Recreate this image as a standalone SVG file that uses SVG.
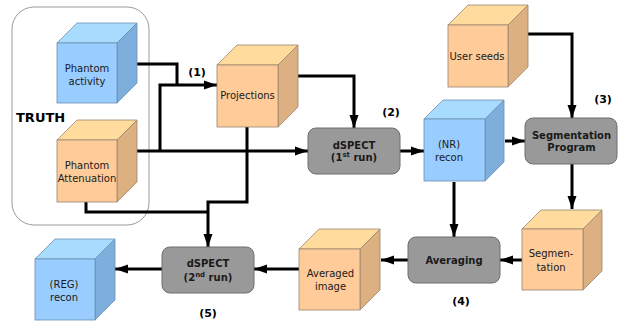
<svg xmlns="http://www.w3.org/2000/svg" width="623" height="324" viewBox="0 0 623 324">
<defs>
<style>
.bf{fill:#99ccff;stroke:#6d8fb0;stroke-width:0.8}
.bt{fill:#a8dcff;stroke:#6d8fb0;stroke-width:0.8}
.bs{fill:#7eaedc;stroke:#6d8fb0;stroke-width:0.8}
.of{fill:#ffcc99;stroke:#9a8670;stroke-width:0.8}
.ot{fill:#ffdc9e;stroke:#9a8670;stroke-width:0.8}
.os{fill:#dcb081;stroke:#9a8670;stroke-width:0.8}
.proc{fill:#999999;stroke:#6e6e6e;stroke-width:1}
.t{font-family:"DejaVu Sans",Verdana,sans-serif;font-size:10px;fill:#1a1a1a;text-anchor:middle}
.tb{font-family:"DejaVu Sans",Verdana,sans-serif;font-size:10px;font-weight:bold;fill:#1a1a1a;text-anchor:middle}
.lab{font-family:"DejaVu Sans",Verdana,sans-serif;font-size:11px;font-weight:bold;fill:#000;text-anchor:middle}
.c{fill:none;stroke:#000;stroke-width:3}
.a{marker-end:url(#ah)}
</style>
<marker id="ah" markerUnits="userSpaceOnUse" markerWidth="14" markerHeight="10" refX="13" refY="5" orient="auto">
<path d="M0,0.5 L13,5 L0,9.5 z" fill="#000"/>
</marker>
</defs>
<rect width="623" height="324" fill="#ffffff"/>

<g id="truth">
<rect x="12" y="7" width="137" height="218" rx="22" fill="none" stroke="#9a9a9a" stroke-width="1"/>
<text x="16" y="122" font-family="DejaVu Sans,sans-serif" font-size="13" font-weight="bold" fill="#000">TRUTH</text>
</g>

<g id="connectors">
<path class="c" d="M137,64 H177 V85"/>
<path class="c a" d="M160,151 V85 H217"/>
<path class="c a" d="M137,151 H308"/>
<path class="c a" d="M298,76 H354 V128"/>
<path class="c a" d="M247,127 V202 H208 V247"/>
<path class="c" d="M86,202 V212 H208"/>
<path class="c a" d="M400,151 H424"/>
<path class="c a" d="M505,141 H525"/>
<path class="c a" d="M528,34 H572 V118"/>
<path class="c a" d="M572,164 V209"/>
<path class="c a" d="M454,182 V237"/>
<path class="c a" d="M522,260 H500"/>
<path class="c a" d="M408,260 H381"/>
<path class="c a" d="M299,269 H254"/>
<path class="c a" d="M162,269 H115"/>
</g>

<g id="phantom-activity">
<polygon class="bt" points="57,43 77,23 137,23 117,43"/>
<polygon class="bs" points="117,43 137,23 137,83 117,103"/>
<rect class="bf" x="57" y="43" width="60" height="60"/>
<text class="t" x="87" y="72">Phantom</text>
<text class="t" x="87" y="85">activity</text>
</g>

<g id="phantom-attenuation">
<polygon class="ot" points="57,140 77,120 137,120 117,140"/>
<polygon class="os" points="117,140 137,120 137,182 117,202"/>
<rect class="of" x="57" y="140" width="60" height="62"/>
<text class="t" x="87" y="169">Phantom</text>
<text class="t" x="87" y="182">Attenuation</text>
</g>

<g id="projections">
<polygon class="ot" points="217,65 237,45 298,45 278,65"/>
<polygon class="os" points="278,65 298,45 298,107 278,127"/>
<rect class="of" x="217" y="65" width="61" height="62"/>
<text class="t" x="247.5" y="99">Projections</text>
</g>

<g id="dspect1">
<rect class="proc" x="308" y="128" width="92" height="46" rx="8"/>
<text class="tb" x="354" y="149">dSPECT</text>
<text class="tb" x="354" y="161">(1<tspan font-size="7" baseline-shift="super">st</tspan> run)</text>
</g>

<g id="nr-recon">
<polygon class="bt" points="424,119 443,100 504,100 485,119"/>
<polygon class="bs" points="485,119 504,100 504,162 485,181"/>
<rect class="bf" x="424" y="119" width="61" height="62"/>
<text class="t" x="449" y="148">(NR)</text>
<text class="t" x="449" y="161">recon</text>
</g>

<g id="user-seeds">
<polygon class="ot" points="448,25 468,5 528,5 508,25"/>
<polygon class="os" points="508,25 528,5 528,67 508,87"/>
<rect class="of" x="448" y="25" width="60" height="62"/>
<text class="t" x="477" y="60">User seeds</text>
</g>

<g id="segmentation-program">
<rect class="proc" x="525" y="118" width="92" height="46" rx="8"/>
<text class="tb" x="571.5" y="139" font-size="9.5">Segmentation</text>
<text class="tb" x="571.5" y="151" font-size="9.5">Program</text>
</g>

<g id="segmentation">
<polygon class="ot" points="522,229 541,210 602,210 583,229"/>
<polygon class="os" points="583,229 602,210 602,271 583,290"/>
<rect class="of" x="522" y="229" width="61" height="61"/>
<text class="t" x="551" y="257">Segmen-</text>
<text class="t" x="551" y="271">tation</text>
</g>

<g id="averaging">
<rect class="proc" x="408" y="237" width="92" height="46" rx="8"/>
<text class="tb" x="454" y="264">Averaging</text>
</g>

<g id="averaged-image">
<polygon class="ot" points="299,249 319,229 380,229 360,249"/>
<polygon class="os" points="360,249 380,229 380,290 360,310"/>
<rect class="of" x="299" y="249" width="61" height="61"/>
<text class="t" x="330.5" y="277">Averaged</text>
<text class="t" x="330.5" y="290">image</text>
</g>

<g id="dspect2">
<rect class="proc" x="162" y="247" width="92" height="46" rx="8"/>
<text class="tb" x="208" y="267">dSPECT</text>
<text class="tb" x="208" y="281">(2<tspan font-size="7" baseline-shift="super">nd</tspan> run)</text>
</g>

<g id="reg-recon">
<polygon class="bt" points="35,259 55,239 115,239 95,259"/>
<polygon class="bs" points="95,259 115,239 115,300 95,320"/>
<rect class="bf" x="35" y="259" width="60" height="61"/>
<text class="t" x="64" y="288">(REG)</text>
<text class="t" x="64" y="301">recon</text>
</g>

<g id="labels">
<text class="lab" x="197" y="76">(1)</text>
<text class="lab" x="391" y="116">(2)</text>
<text class="lab" x="603" y="103">(3)</text>
<text class="lab" x="461" y="305">(4)</text>
<text class="lab" x="208" y="317">(5)</text>
</g>
</svg>
